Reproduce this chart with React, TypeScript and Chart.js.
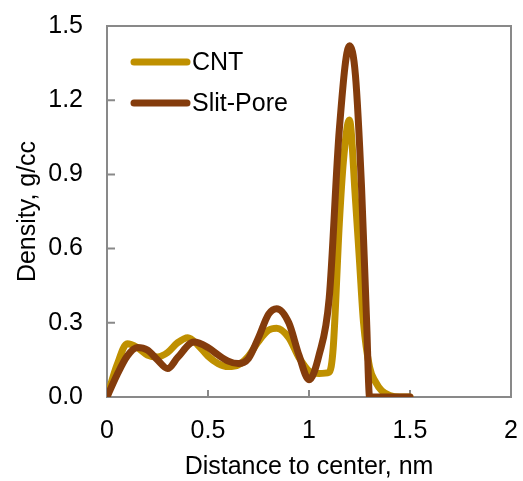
import React, { useEffect, useRef } from "react";
import { Chart, registerables } from "chart.js";
Chart.register(...registerables);

const cntX = [0, 0.05, 0.1, 0.15, 0.2, 0.25, 0.3, 0.35, 0.4, 0.45, 0.5, 0.55, 0.6, 0.65, 0.7, 0.75, 0.8, 0.84, 0.9, 0.95, 1.0, 1.05, 1.1, 1.12, 1.15, 1.17, 1.2, 1.23, 1.25, 1.27, 1.3, 1.33, 1.36, 1.4, 1.45, 1.5];
const cntY = [0, 0.13, 0.215, 0.2, 0.17, 0.162, 0.18, 0.22, 0.24, 0.21, 0.165, 0.135, 0.123, 0.13, 0.165, 0.225, 0.27, 0.278, 0.24, 0.16, 0.105, 0.095, 0.1, 0.2, 0.7, 0.95, 1.12, 0.8, 0.55, 0.3, 0.12, 0.06, 0.025, 0.006, 0, 0];

const slitX = [0, 0.05, 0.1, 0.15, 0.2, 0.25, 0.3, 0.35, 0.43, 0.5, 0.55, 0.6, 0.65, 0.7, 0.75, 0.8, 0.84, 0.9, 0.95, 1.0, 1.05, 1.1, 1.15, 1.2, 1.23, 1.26, 1.285, 1.3, 1.4, 1.5];
const slitY = [0, 0.09, 0.165, 0.2, 0.19, 0.15, 0.115, 0.16, 0.222, 0.2, 0.17, 0.145, 0.135, 0.155, 0.24, 0.335, 0.357, 0.3, 0.17, 0.07, 0.17, 0.4, 1.08, 1.42, 1.3, 0.85, 0.31, 0, 0, 0];

const seriesNames = ["CNT", "Slit-Pore"];
const seriesColors = ["#BF9000", "#843C0C"];
const xTicks = [0, 0.5, 1, 1.5, 2];
const yTicks = [0, 0.3, 0.6, 0.9, 1.2, 1.5];

const FONT = "'Liberation Sans', Arial, sans-serif";
const AXIS = "#898989";
const FS = 25;

const framePlugin = {
  id: "frame",
  beforeDatasetsDraw(chart: any) {
    const { ctx, chartArea: a, scales } = chart;
    ctx.save();
    ctx.strokeStyle = AXIS;
    ctx.lineWidth = 2;
    ctx.strokeRect(a.left, a.top, a.right - a.left, a.bottom - a.top);
    ctx.beginPath();
    yTicks.forEach((v) => {
      const y = scales.y.getPixelForValue(v);
      ctx.moveTo(a.left, y);
      ctx.lineTo(a.left + 8, y);
    });
    xTicks.forEach((v) => {
      const x = scales.x.getPixelForValue(v);
      ctx.moveTo(x, a.bottom);
      ctx.lineTo(x, a.bottom - 7);
    });
    ctx.stroke();
    ctx.restore();
  },
  afterDatasetsDraw(chart: any) {
    const { ctx } = chart;
    ctx.save();
    const rows = [62, 103];
    seriesNames.forEach((name, i) => {
      ctx.strokeStyle = seriesColors[i];
      ctx.lineWidth = 7;
      ctx.lineCap = "round";
      ctx.beginPath();
      ctx.moveTo(134, rows[i]);
      ctx.lineTo(187, rows[i]);
      ctx.stroke();
      ctx.fillStyle = "#000";
      ctx.font = `${FS}px ${FONT}`;
      ctx.textAlign = "left";
      ctx.textBaseline = "middle";
      ctx.fillText(name, 192, rows[i] + 1);
    });
    ctx.restore();
  },
};

const zeroPad = (s: any) => {
  s.paddingTop = 0;
  s.paddingBottom = 0;
  s.paddingLeft = 0;
  s.paddingRight = 0;
};

export default function App() {
  const ref = useRef<HTMLCanvasElement>(null);
  useEffect(() => {
    const mk = (xs: number[], ys: number[]) => xs.map((x, i) => ({ x, y: ys[i] }));
    const chart = new Chart(ref.current!, {
      type: "line",
      data: {
        datasets: [
          {
            label: seriesNames[0],
            data: mk(cntX, cntY),
            borderColor: seriesColors[0],
            borderWidth: 7,
            pointRadius: 0,
            cubicInterpolationMode: "monotone",
            borderCapStyle: "round",
            borderJoinStyle: "round",
            order: 1,
          },
          {
            label: seriesNames[1],
            data: mk(slitX, slitY),
            borderColor: seriesColors[1],
            borderWidth: 7,
            pointRadius: 0,
            cubicInterpolationMode: "monotone",
            borderCapStyle: "round",
            borderJoinStyle: "round",
            order: 0,
          },
        ],
      },
      options: {
        animation: false,
        responsive: false,
        devicePixelRatio: 1,
        layout: { padding: { top: 26, right: 12, left: 0, bottom: 0 } },
        plugins: { legend: { display: false }, tooltip: { enabled: false } },
        scales: {
          x: {
            type: "linear",
            min: 0,
            max: 2,
            afterBuildTicks: (s: any) => {
              s.ticks = xTicks.map((v) => ({ value: v }));
            },
            afterFit: (s: any) => {
              s.height = 84;
              zeroPad(s);
            },
            grid: { display: false, drawTicks: false },
            border: { display: false },
            ticks: {
              color: "#000",
              font: { family: FONT, size: FS },
              padding: 19,
              maxRotation: 0,
              callback: (v: any) => String(v),
            },
            title: {
              display: true,
              text: "Distance to center, nm",
              color: "#000",
              font: { family: FONT, size: FS },
              padding: { top: 0, bottom: -1 },
            },
          },
          y: {
            type: "linear",
            min: 0,
            max: 1.5,
            afterBuildTicks: (s: any) => {
              s.ticks = yTicks.map((v) => ({ value: v }));
            },
            afterFit: (s: any) => {
              s.width = 107;
              zeroPad(s);
            },
            grid: { display: false, drawTicks: false },
            border: { display: false },
            ticks: {
              color: "#000",
              font: { family: FONT, size: FS },
              padding: 24,
              callback: (v: any) => Number(v).toFixed(1),
            },
            title: {
              display: true,
              text: "Density, g/cc",
              color: "#000",
              font: { family: FONT, size: FS },
              padding: { top: 13, bottom: 0 },
            },
          },
        },
      },
      plugins: [framePlugin],
    } as any);
    return () => chart.destroy();
  }, []);
  return (
    <div style={{ position: "absolute", left: 0, top: 0, width: 523, height: 481 }}>
      <canvas ref={ref} width={523} height={481} style={{ width: 523, height: 481, display: "block" }} />
    </div>
  );
}
